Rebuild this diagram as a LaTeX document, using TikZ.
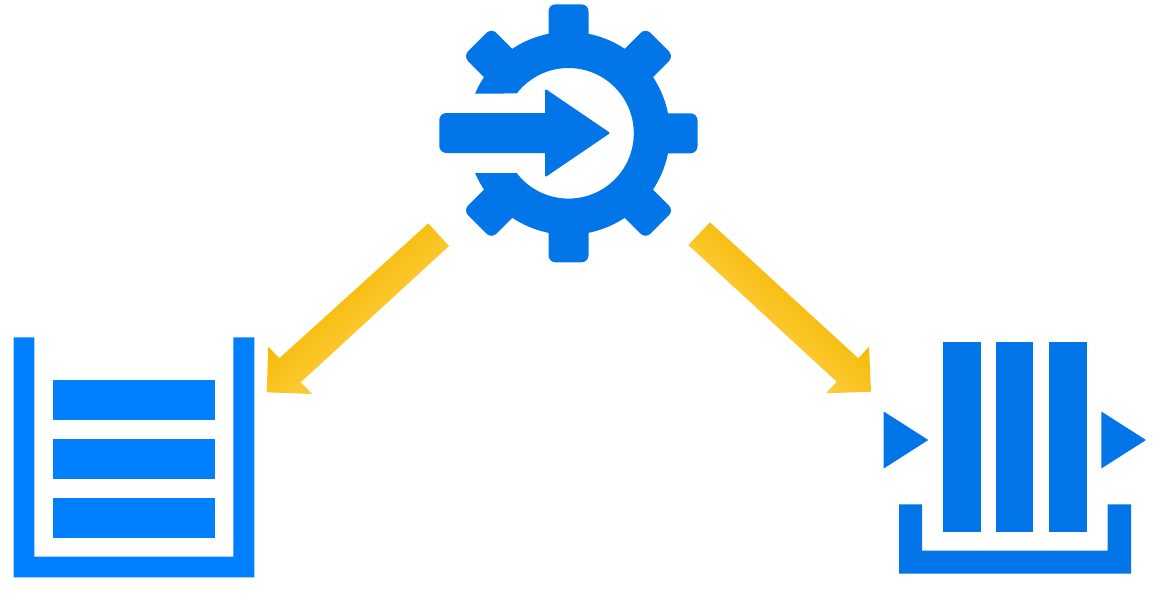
\documentclass[tikz,border=0pt]{standalone}
\definecolor{gearblue}{HTML}{0275E8}
\definecolor{boxblue}{HTML}{0080FF}
\definecolor{amberA}{HTML}{F4B800}
\definecolor{amberB}{HTML}{FFC400}
\definecolor{amberC}{HTML}{FFCE40}
\tikzset{
  gearfill/.style={fill=gearblue,draw=none},
  leftfill/.style={fill=boxblue,draw=none},
  tooth/.style={fill=gearblue,draw=none,rounded corners=7pt},
  sheen/.style={top color=amberA,middle color=amberB,bottom color=amberC,draw=none},
}
\begin{document}
\begin{tikzpicture}[x=1pt,y=-1pt]
\useasboundingbox (0,0) rectangle (1172,602);
% gear
\coordinate (gear) at (568.5,133.3);
\begin{scope}[shift={(gear)},y=1pt]
  \fill[gearfill] (156.97:101.5) arc[start angle=156.97,end angle=-156.97,radius=101.5pt]
     -- (-142.4:65.3) arc[start angle=-142.4,end angle=142.4,radius=65.3pt] -- cycle;
\end{scope}
\foreach \a in {0,45,90,135,-135,-90,-45}{
  \begin{scope}[shift={(gear)},y=1pt,rotate=\a]
    \fill[tooth] (85,-20) -- (129,-20) -- (129,20) -- (85,20) -- cycle;
  \end{scope}
}
\fill[tooth] (560,113) -- (439.3,113) -- (439.3,153) -- (560,153) -- cycle;
\fill[gearfill,draw=gearblue,line width=2pt,line join=round] (546,90.5) -- (608.5,133) -- (546,175.5) -- cycle;
% left queue
\fill[leftfill] (13.7,337.3) -- (34.3,337.3) -- (34.3,556.5) -- (233.4,556.5) -- (233.4,337.3) -- (254.3,337.3) -- (254.3,577.3) -- (13.7,577.3) -- cycle;
\foreach \y in {380,439,497.8}{\fill[leftfill] (53,\y) rectangle (214.8,\y+40);}
% right stream
\foreach \x in {942.7,995.5,1048.7}{\fill[gearfill] (\x,341.8) rectangle (\x+37.8,532.3);}
\fill[gearfill] (883.7,411.5) -- (928.3,440) -- (883.7,468.5) -- cycle;
\fill[gearfill] (1101.3,411.5) -- (1146,440) -- (1101.3,468.5) -- cycle;
\fill[gearfill] (899,504.3) -- (922,504.3) -- (922,550.5) -- (1107.6,550.5) -- (1107.6,504.3) -- (1131,504.3) -- (1131,573.5) -- (899,573.5) -- cycle;
% arrows
\begin{scope}
  \clip (428.3,223.3) -- (279.3,358.3) -- (268.3,346.7) -- (266.7,392.3) -- (312.3,394) -- (300.7,382.3) -- (449,246) -- cycle;
  \begin{scope}[transform canvas={shift={(359pt,-307pt)},rotate=42.2},y=1pt]
    \shade[sheen] (-150,-40) rectangle (150,40);
  \end{scope}
\end{scope}
\begin{scope}
  \clip (710,222.3) -- (858.3,358.3) -- (869,346.7) -- (871,391.7) -- (826,393.3) -- (836.7,381.7) -- (688.3,245) -- cycle;
  \begin{scope}[transform canvas={shift={(779pt,-307pt)},rotate=-42.5},y=1pt]
    \shade[sheen] (-150,-40) rectangle (150,40);
  \end{scope}
\end{scope}
\end{tikzpicture}
\end{document}
